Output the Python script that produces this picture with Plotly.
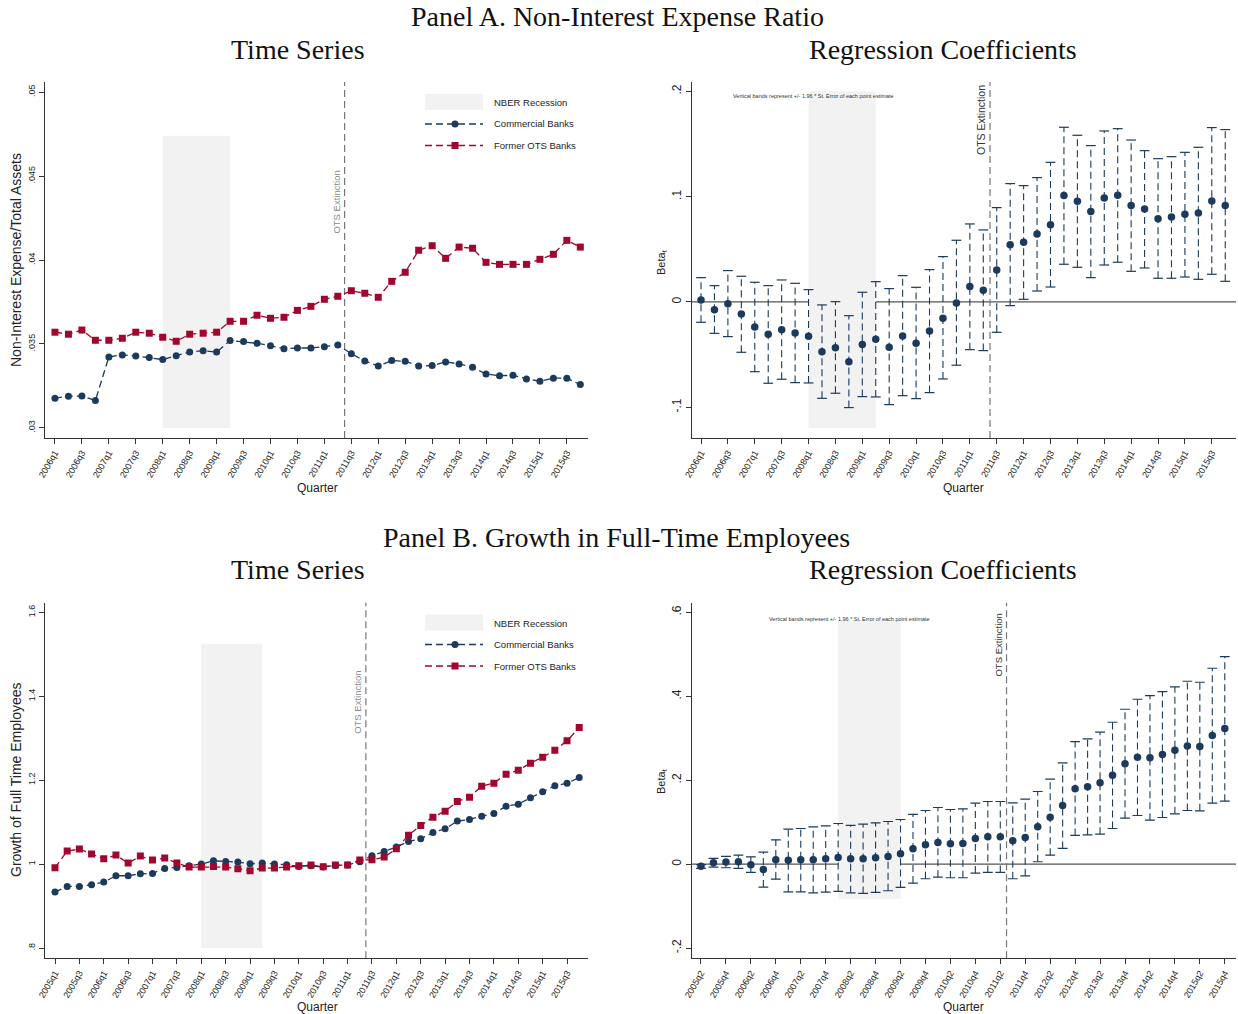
import plotly.graph_objects as go

W, H = 1238, 1014

def quarter_labels(y0, q0, n):
    out = []
    y, q = y0, q0
    for _ in range(n):
        out.append(f"{y}q{q}")
        q += 1
        if q > 4:
            q = 1
            y += 1
    return out

# ---------------- categories ----------------
qA = quarter_labels(2006, 1, 40)          # Panel A (both charts)
qB_ts = quarter_labels(2005, 1, 44)       # Panel B time series
qB_reg = quarter_labels(2005, 2, 43)      # Panel B regression

recession = ("2008q1", "2009q2")
ots_last_quarter = "2011q2"               # OTS extinction between 2011q2 and 2011q3

# ---------------- Panel A data ----------------
nie_commercial = [0.03177, 0.03189, 0.0319, 0.03163, 0.03423, 0.03435, 0.03429, 0.03419, 0.03407, 0.0343,
                  0.03452, 0.0346, 0.03452, 0.0352, 0.03514, 0.03504, 0.0349, 0.03472, 0.03476, 0.03476,
                  0.03484, 0.03494, 0.03442, 0.03399, 0.03369, 0.03401, 0.03397, 0.03369, 0.03371, 0.03393,
                  0.03381, 0.03361, 0.03321, 0.03311, 0.03313, 0.03292, 0.03278, 0.03296, 0.03296, 0.03258]
nie_ots = [0.0357, 0.03558, 0.03583, 0.03522, 0.03522, 0.03534, 0.0357, 0.03564, 0.0354, 0.03516,
           0.03558, 0.03564, 0.0357, 0.03635, 0.03635, 0.03671, 0.03653, 0.03659, 0.037, 0.03724,
           0.03766, 0.03784, 0.03817, 0.03802, 0.03778, 0.03873, 0.03927, 0.04058, 0.04085, 0.0401,
           0.04077, 0.0407, 0.03986, 0.03974, 0.03974, 0.03974, 0.04004, 0.04034, 0.04117, 0.04077]
nie_beta = [0.0019, -0.0073, -0.0016, -0.0114, -0.0237, -0.0307, -0.0263, -0.0294, -0.0326, -0.0472,
            -0.0434, -0.0567, -0.0405, -0.0355, -0.0431, -0.0323, -0.0393, -0.0275, -0.0155, -0.0009,
            0.0146, 0.0111, 0.0304, 0.0544, 0.0567, 0.0646, 0.0734, 0.101, 0.0956, 0.0858,
            0.0988, 0.1013, 0.0915, 0.0883, 0.0791, 0.0807, 0.0833, 0.0845, 0.0959, 0.0915]
nie_hi = [0.0231, 0.0155, 0.0298, 0.0244, 0.0187, 0.0155, 0.0209, 0.0177, 0.0117, -0.0028,
          0.0003, -0.013, 0.0092, 0.0193, 0.0127, 0.025, 0.0139, 0.0307, 0.0431, 0.0586,
          0.0741, 0.0684, 0.0896, 0.1124, 0.1105, 0.1181, 0.1326, 0.1659, 0.1583, 0.1485,
          0.1624, 0.1646, 0.1538, 0.1437, 0.1361, 0.138, 0.1421, 0.1469, 0.1656, 0.1637]
nie_lo = [-0.0193, -0.0298, -0.0329, -0.0478, -0.0662, -0.0772, -0.0734, -0.0766, -0.0769, -0.0915,
          -0.0867, -0.1003, -0.0899, -0.0902, -0.0975, -0.089, -0.0918, -0.0861, -0.0731, -0.0601,
          -0.0453, -0.0462, -0.0288, -0.0035, 0.0025, 0.0104, 0.0142, 0.0358, 0.0329, 0.0231,
          0.0351, 0.0377, 0.0291, 0.0323, 0.0225, 0.0225, 0.0237, 0.0215, 0.0263, 0.0196]

# ---------------- Panel B data ----------------
emp_commercial = [0.9333, 0.9468, 0.9468, 0.9508, 0.9571, 0.9722, 0.9722, 0.977, 0.9778, 0.9897,
                  0.9921, 0.996, 1.0, 1.0079, 1.0063, 1.0048, 1.0008, 1.0024, 1.0, 0.9984,
                  0.9945, 0.996, 0.993, 0.9968, 0.998, 1.0056, 1.0198, 1.0302, 1.0405, 1.054,
                  1.0603, 1.0754, 1.0841, 1.1024, 1.1063, 1.1143, 1.1206, 1.1381, 1.1429, 1.1579,
                  1.1722, 1.1865, 1.1929, 1.2063]
emp_ots = [0.9913, 1.031, 1.0357, 1.0238, 1.0127, 1.0214, 1.0024, 1.019, 1.0095, 1.0143,
           1.0024, 0.9929, 0.9929, 0.9944, 0.9929, 0.9889, 0.9841, 0.9905, 0.9905, 0.9929,
           0.996, 0.9976, 0.9937, 0.9976, 0.9976, 1.0095, 1.0103, 1.0167, 1.0365, 1.069,
           1.092, 1.1119, 1.1262, 1.1492, 1.1595, 1.1857, 1.1929, 1.2143, 1.2238, 1.2405,
           1.2548, 1.2714, 1.2937, 1.3254]
emp_beta = [-0.0048, 0.0032, 0.0048, 0.0056, -0.0016, -0.0127, 0.0103, 0.0095, 0.0103, 0.0103,
            0.0127, 0.0159, 0.0127, 0.0127, 0.0151, 0.0183, 0.0246, 0.0365, 0.046, 0.0516,
            0.0484, 0.0492, 0.0611, 0.0651, 0.0651, 0.0556, 0.0635, 0.0889, 0.1119, 0.1397,
            0.1794, 0.1841, 0.1937, 0.2119, 0.2389, 0.2548, 0.2532, 0.2611, 0.2714, 0.2817,
            0.2802, 0.3063, 0.323]
emp_hi = [-0.001, 0.0135, 0.0183, 0.0214, 0.0175, 0.0286, 0.0579, 0.0833, 0.0849, 0.0889,
          0.0913, 0.0968, 0.0921, 0.0952, 0.0984, 0.1016, 0.1063, 0.1183, 0.1278, 0.1349,
          0.1302, 0.1317, 0.1452, 0.1492, 0.1492, 0.146, 0.1548, 0.173, 0.2024, 0.2413,
          0.2921, 0.2984, 0.3143, 0.3381, 0.369, 0.3929, 0.4016, 0.4111, 0.4222, 0.4357,
          0.4333, 0.4667, 0.4944]
emp_lo = [-0.0103, -0.0071, -0.0087, -0.0103, -0.0198, -0.0548, -0.0357, -0.0659, -0.0659, -0.0683,
          -0.0667, -0.0651, -0.0683, -0.0698, -0.0675, -0.0635, -0.0556, -0.0452, -0.0349, -0.031,
          -0.0325, -0.0325, -0.0214, -0.0198, -0.0198, -0.0349, -0.0278, 0.0056, 0.0214, 0.0373,
          0.0683, 0.0698, 0.0714, 0.0849, 0.1095, 0.1159, 0.1048, 0.1111, 0.1198, 0.1278,
          0.127, 0.1452, 0.15]

# ---------------- tick labels ----------------
ytA_ts = [0.03, 0.035, 0.04, 0.045, 0.05]
ylA_ts = [".03", ".035", ".04", ".045", ".05"]
ytA_reg = [-0.1, 0, 0.1, 0.2]
ylA_reg = ["-.1", "0", ".1", ".2"]
ytB_ts = [0.8, 1.0, 1.2, 1.4, 1.6]
ylB_ts = [".8", "1", "1.2", "1.4", "1.6"]
ytB_reg = [-0.2, 0, 0.2, 0.4, 0.6]
ylB_reg = ["-.2", "0", ".2", ".4", ".6"]

# shaded recession band vertical extents
shadeA_ts = (0.03, 0.0474)
shadeA_reg = (-0.12, 0.2)
shadeB_ts = (0.8, 1.525)
shadeB_reg = (-0.083, 0.582)

NAVY = "#1b3a5c"
RED = "#a1062e"
SHADE = "#f2f2f2"
AX = "#333333"
SANS = "Liberation Sans, Arial, sans-serif"
SERIF = "Liberation Serif, Times New Roman, serif"

def px_x(p):
    return p / W

def px_y(p):
    return 1 - p / H

fig = go.Figure()

# ---------------- traces ----------------
def add_ts(xax, yax, cats, comm, ots):
    fig.add_trace(go.Scatter(x=cats, y=comm, mode="lines+markers", xaxis=xax, yaxis=yax,
                             line=dict(color=NAVY, width=1.3, dash="7px,4px"),
                             marker=dict(color=NAVY, size=7, symbol="circle"),
                             name="Commercial Banks", showlegend=False))
    fig.add_trace(go.Scatter(x=cats, y=ots, mode="lines+markers", xaxis=xax, yaxis=yax,
                             line=dict(color=RED, width=1.3, dash="7px,4px"),
                             marker=dict(color=RED, size=7, symbol="square"),
                             name="Former OTS Banks", showlegend=False))

def add_reg(xax, yax, cats, beta, hi, lo):
    bx, by = [], []
    for c, h, l in zip(cats, hi, lo):
        bx += [c, c, None]
        by += [l, h, None]
    fig.add_trace(go.Scatter(x=bx, y=by, mode="lines", xaxis=xax, yaxis=yax,
                             line=dict(color=NAVY, width=1.1, dash="7px,4px"),
                             showlegend=False, hoverinfo="skip"))
    fig.add_trace(go.Scatter(x=list(cats) + list(cats), y=list(hi) + list(lo), mode="markers",
                             xaxis=xax, yaxis=yax,
                             marker=dict(symbol="line-ew", size=7,
                                         line=dict(color=NAVY, width=1.2)),
                             showlegend=False, hoverinfo="skip"))
    fig.add_trace(go.Scatter(x=cats, y=beta, mode="markers", xaxis=xax, yaxis=yax,
                             marker=dict(color=NAVY, size=7.5), showlegend=False))

add_ts("x", "y", qA, nie_commercial, nie_ots)
add_reg("x2", "y2", qA, nie_beta, nie_hi, nie_lo)
add_ts("x3", "y3", qB_ts, emp_commercial, emp_ots)
add_reg("x4", "y4", qB_reg, emp_beta, emp_hi, emp_lo)

# ---------------- shapes / annotations ----------------
shapes = []
annotations = []

def panel_overlays(n, cats, shade, ots_color, ots_text_bottom_px, ots_font, is_reg):
    xr = "x" if n == 1 else f"x{n}"
    yr = "y" if n == 1 else f"y{n}"
    if is_reg:
        shapes.append(dict(type="line", xref=f"{xr} domain", yref=yr, x0=0, x1=1, y0=0, y1=0,
                           line=dict(color="#555555", width=1.2), layer="below"))
    shapes.append(dict(type="rect", xref=xr, yref=yr, x0=recession[0], x1=recession[1],
                       y0=shade[0], y1=shade[1], fillcolor=SHADE, line=dict(width=0), layer="below"))
    ots_x = cats.index(ots_last_quarter) + 0.5
    shapes.append(dict(type="line", xref=xr, yref=f"{yr} domain", x0=ots_x, x1=ots_x, y0=0, y1=1,
                       line=dict(color="#777777", width=1.2, dash="7px,4px"), layer="below"))
    annotations.append(dict(x=ots_x, xref=xr, y=px_y(ots_text_bottom_px), yref="paper",
                            text="OTS Extinction", textangle=-90, showarrow=False,
                            xanchor="right", yanchor="bottom", xshift=-1,
                            font=dict(family=SANS, size=ots_font, color=ots_color)))

panel_overlays(1, qA, shadeA_ts, "#8a8a8a", 236, 9.5, False)
panel_overlays(2, qA, shadeA_reg, "#333333", 157, 10.5, True)
panel_overlays(3, qB_ts, shadeB_ts, "#8a8a8a", 736, 9.5, False)
panel_overlays(4, qB_reg, shadeB_reg, "#333333", 679, 9.5, True)

# manual legends
def legend(dy):
    shapes.append(dict(type="rect", xref="paper", yref="paper", x0=px_x(425), x1=px_x(483),
                       y0=px_y(110 + dy), y1=px_y(94 + dy), fillcolor=SHADE, line=dict(width=0)))
    annotations.append(dict(x=px_x(492), y=px_y(103 + dy), xref="paper", yref="paper",
                            text="NBER Recession", showarrow=False, xanchor="left", yanchor="middle",
                            font=dict(family=SANS, size=9.5, color="#222")))
    for yy, col, label, kind in [(124, NAVY, "Commercial Banks", "circle"),
                                 (145.5, RED, "Former OTS Banks", "rect")]:
        shapes.append(dict(type="line", xref="paper", yref="paper", x0=px_x(425), x1=px_x(483),
                           y0=px_y(yy + dy), y1=px_y(yy + dy),
                           line=dict(color=col, width=1.3, dash="7px,4px")))
        shapes.append(dict(type=kind, xref="paper", yref="paper",
                           xsizemode="pixel", ysizemode="pixel",
                           xanchor=px_x(455), yanchor=px_y(yy + dy),
                           x0=-3.5, x1=3.5, y0=-3.5, y1=3.5,
                           fillcolor=col, line=dict(width=0)))
        annotations.append(dict(x=px_x(492), y=px_y(yy + dy), xref="paper", yref="paper",
                                text=label, showarrow=False, xanchor="left", yanchor="middle",
                                font=dict(family=SANS, size=9.5, color="#222")))

legend(0)
legend(520.5)

note = "Vertical bands represent +/- 1.96 * St. Error of each point estimate"
annotations.append(dict(x=px_x(813), y=px_y(96), xref="paper", yref="paper", text=note,
                        xanchor="center", yanchor="middle",
                        showarrow=False, font=dict(family=SANS, size=5.5, color="#333")))
annotations.append(dict(x=px_x(849), y=px_y(619), xref="paper", yref="paper", text=note,
                        xanchor="center", yanchor="middle",
                        showarrow=False, font=dict(family=SANS, size=5.5, color="#333")))

# titles
for txt, x, y in [("Panel A. Non-Interest Expense Ratio", 617, 17),
                  ("Time Series", 298, 49), ("Regression Coefficients", 943, 49),
                  ("Panel B. Growth in Full-Time Employees", 616.5, 537),
                  ("Time Series", 298, 569), ("Regression Coefficients", 943, 569)]:
    annotations.append(dict(x=px_x(x), y=px_y(y), xref="paper", yref="paper", text=txt,
                            showarrow=False, xanchor="center", yanchor="middle",
                            font=dict(family=SERIF, size=28, color="#111")))

# axis titles (placed as annotations for exact positioning)
for txt, x, y, ang, size in [("Non-Interest Expense/Total Assets", 16, 260, -90, 14),
                             ("Growth of Full Time Employees", 16, 780, -90, 14),
                             ("Beta<sub>t</sub>", 662, 262, -90, 11),
                             ("Beta<sub>t</sub>", 662, 781, -90, 11),
                             ("Quarter", 317, 488, 0, 12), ("Quarter", 963, 488, 0, 12),
                             ("Quarter", 317, 1007, 0, 12), ("Quarter", 963, 1007, 0, 12)]:
    annotations.append(dict(x=px_x(x), y=px_y(y), xref="paper", yref="paper", text=txt,
                            textangle=ang, showarrow=False, xanchor="center", yanchor="middle",
                            font=dict(family=SANS, size=size, color="#222")))

# ---------------- axes ----------------
domL = [px_x(45), px_x(588)]
domR = [px_x(692), px_x(1236)]
domT = [px_y(438), px_y(82)]
domB = [px_y(958.3), px_y(602.7)]

def xaxis(dom, anchor, cats, rng):
    return dict(domain=dom, anchor=anchor, type="category", range=rng, automargin=False,
                tickmode="array", tickvals=cats[::2], ticktext=cats[::2], tickangle=-60,
                ticks="outside", ticklen=5, tickcolor=AX, tickwidth=1,
                showline=True, linecolor=AX, linewidth=1, showgrid=False, zeroline=False,
                tickfont=dict(family=SANS, size=9, color="#222"))

def yaxis(dom, anchor, tv, tl, rng, tsize):
    return dict(domain=dom, anchor=anchor, range=rng, automargin=False,
                tickmode="array", tickvals=tv, ticktext=tl,
                tickangle=-90, ticks="outside", ticklen=5, tickcolor=AX, tickwidth=1,
                showline=True, linecolor=AX, linewidth=1, showgrid=False, zeroline=False,
                tickfont=dict(family=SANS, size=tsize, color="#222"))

fig.update_layout(
    template="none",
    width=W, height=H, margin=dict(l=0, r=0, t=0, b=0, pad=0),
    paper_bgcolor="white", plot_bgcolor="white", showlegend=False,
    xaxis=xaxis(domL, "y", qA, [-0.74, 39.57]),
    yaxis=yaxis(domT, "x", ytA_ts, ylA_ts, [0.0294, 0.0506], 9),
    xaxis2=xaxis(domR, "y2", qA, [-0.67, 39.8]),
    yaxis2=yaxis(domT, "x2", ytA_reg, ylA_reg, [-0.1292, 0.2089], 12),
    xaxis3=xaxis(domL, "y3", qB_ts, [-0.82, 43.72]),
    yaxis3=yaxis(domB, "x3", ytB_ts, ylB_ts, [0.7755, 1.6229], 9),
    xaxis4=xaxis(domR, "y4", qB_reg, [-0.72, 42.9]),
    yaxis4=yaxis(domB, "x4", ytB_reg, ylB_reg, [-0.2244, 0.6229], 12),
    shapes=shapes, annotations=annotations,
)

fig.write_html("out.html", config={"displayModeBar": False},
               post_script="document.body.style.margin='0';document.body.style.padding='0';"
                           "document.body.style.overflow='hidden';")
